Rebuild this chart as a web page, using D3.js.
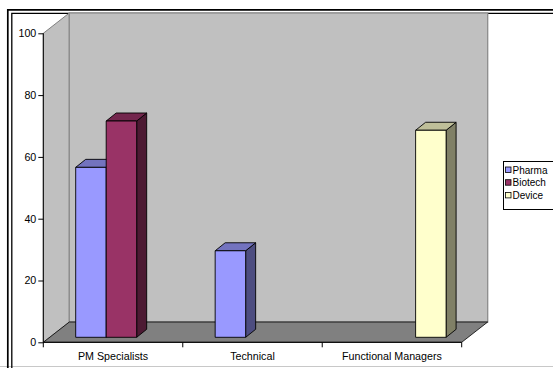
<!DOCTYPE html>
<html>
<head>
<meta charset="utf-8">
<script src="https://cdn.jsdelivr.net/npm/d3@7"></script>
<style>
  html, body { margin: 0; padding: 0; background: #fff; }
  svg { display: block; font-family: "Liberation Sans", Arial, sans-serif; }
</style>
</head>
<body>
<svg id="chart" width="553" height="368"></svg>
<script>
// Survey counts by role and industry segment
const categories = ["PM Specialists", "Technical", "Functional Managers"];
const seriesNames = ["Pharma", "Biotech", "Device"];
const pharma  = [55, 28, null];
const biotech = [70, null, null];
const device  = [null, null, 67];
const yTicks = [0, 20, 40, 60, 80, 100];

const seriesValues = [pharma, biotech, device];
const fronts = ["#9999FF", "#993366", "#FFFFCC"];
const tops   = ["#7373BF", "#73264D", "#BFBF99"];
const sides  = ["#4D4D80", "#4D1A33", "#808066"];

const svg = d3.select("#chart");

// Frame: double rule on top/left, light rule at the bottom
svg.append("line").attr("x1", 0).attr("x2", 553).attr("y1", 366.5).attr("y2", 366.5)
  .attr("stroke", "#C8C8C8").attr("stroke-width", 1.2);
svg.append("path").attr("d", "M7.8,368 V9.8 H553").attr("fill", "none")
  .attr("stroke", "#000").attr("stroke-width", 1.7);
svg.append("path").attr("d", "M11.8,368 V13.3 H553").attr("fill", "none")
  .attr("stroke", "#000").attr("stroke-width", 1.3);

// Scales
const y = d3.scaleLinear().domain([0, 100]).range([342.3, 33.3]);
const x = d3.scaleBand().domain(categories).range([43.3, 461.7]).padding(0);
const xs = d3.scaleBand().domain(seriesNames).range([0, x.bandwidth()])
  .paddingInner(0).paddingOuter(0.787);

// Depth of the floor/walls and of the bars
const DX = 26, DY = -20.3;
const bx0 = 8.4, by0 = -5;      // bar front plane offset
const bdx = 10, bdy = -8;       // bar depth

const x0 = x.range()[0], x1 = x.range()[1];
const yTop = y(100), yBase = y(0);

const g = svg.append("g");

// Side wall
g.append("polygon")
  .attr("points", [[x0, yTop], [x0 + DX, yTop + DY], [x0 + DX, yBase + DY], [x0, yBase]].join(" "))
  .attr("fill", "#C0C0C0").attr("stroke", "#808080").attr("stroke-width", 1);
// Back wall
g.append("rect")
  .attr("x", x0 + DX).attr("y", yTop + DY)
  .attr("width", x1 - x0).attr("height", yBase - yTop)
  .attr("fill", "#C0C0C0").attr("stroke", "#8C8C8C").attr("stroke-width", 1.3);
// Floor
g.append("polygon")
  .attr("points", [[x0, yBase], [x1, yBase], [x1 + DX, yBase + DY], [x0 + DX, yBase + DY]].join(" "))
  .attr("fill", "#808080").attr("stroke", "#000").attr("stroke-width", 0.8);

// Bars
const bars = g.append("g");
categories.forEach((c, ci) => {
  seriesNames.forEach((s, si) => {
    const v = seriesValues[si][ci];
    if (v == null) return;
    const L = x(c) + xs(s) + bx0;
    const R = L + xs.bandwidth();
    const T = y(v) + by0;
    const B = y(0) + by0;
    const bg = bars.append("g").attr("stroke", "#000").attr("stroke-width", 0.9)
      .attr("stroke-linejoin", "round");
    bg.append("polygon")
      .attr("points", [[R, T], [R + bdx, T + bdy], [R + bdx, B + bdy], [R, B]].join(" "))
      .attr("fill", sides[si]);
    bg.append("polygon")
      .attr("points", [[L, T], [L + bdx, T + bdy], [R + bdx, T + bdy], [R, T]].join(" "))
      .attr("fill", tops[si]);
    bg.append("rect")
      .attr("x", L).attr("y", T).attr("width", R - L).attr("height", B - T)
      .attr("fill", fronts[si]);
  });
});

// Y axis
const yAxis = d3.axisLeft(y).tickValues(yTicks).tickSize(5).tickPadding(2);
const ya = svg.append("g").attr("transform", `translate(${x0},0)`).call(yAxis);
ya.select(".domain").attr("stroke", "#000").attr("d", `M0,${yTop}V${yBase}`);
ya.selectAll(".tick line").attr("stroke", "#000");
ya.selectAll(".tick text").attr("font-size", 10.7).attr("fill", "#000")
  .attr("font-family", "Liberation Sans, Arial, sans-serif");

// X axis with ticks at category boundaries
const xa = svg.append("g");
xa.append("line").attr("x1", x0).attr("x2", x1).attr("y1", yBase).attr("y2", yBase)
  .attr("stroke", "#000").attr("stroke-width", 1);
const bounds = categories.map(c => x(c)).concat([x1]);
xa.selectAll("line.tk").data(bounds).join("line").attr("class", "tk")
  .attr("x1", d => d).attr("x2", d => d).attr("y1", yBase).attr("y2", yBase + 5)
  .attr("stroke", "#000");
xa.selectAll("text").data(categories).join("text")
  .attr("x", d => x(d) + x.bandwidth() / 2).attr("y", 359.5)
  .attr("text-anchor", "middle").attr("font-size", 10.7).attr("fill", "#000")
  .text(d => d);

// Legend
const lg = svg.append("g");
lg.append("rect").attr("x", 503.5).attr("y", 161.5).attr("width", 80).attr("height", 48)
  .attr("fill", "#fff").attr("stroke", "#000").attr("stroke-width", 1);
seriesNames.forEach((s, i) => {
  const cy = 170 + i * 12.7;
  lg.append("rect").attr("x", 505.5).attr("y", cy - 3).attr("width", 5.5).attr("height", 5.5)
    .attr("fill", fronts[i]).attr("stroke", "#000").attr("stroke-width", 0.8);
  lg.append("text").attr("x", 512.5).attr("y", cy + 3.6).attr("font-size", 10)
    .attr("fill", "#000").text(s);
});
</script>
</body>
</html>
